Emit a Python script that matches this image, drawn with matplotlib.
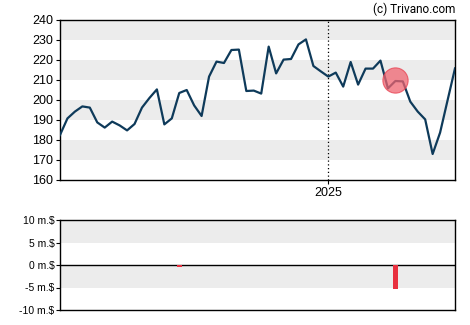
import matplotlib
matplotlib.use("Agg")
import matplotlib.pyplot as plt
import numpy as np

# Weekly closing prices
prices = [182.5, 190.8, 194.2, 196.8, 196.2, 188.8, 186.2, 189.2, 187.3, 184.8,
          188.0, 196.2, 201.0, 205.3, 187.8, 190.8, 203.5, 205.0, 197.3, 192.0,
          211.7, 219.2, 218.5, 225.0, 225.2, 204.5, 204.7, 203.2, 226.7, 213.3,
          220.2, 220.5, 227.8, 230.3, 217.0, 214.3, 211.7, 213.7, 206.7, 219.0,
          207.7, 215.7, 215.7, 219.7, 205.8, 209.5, 209.3, 199.2, 194.2, 190.3,
          173.0, 183.7, 199.8, 215.8]

# Insider transactions (million $): week index and net value
trade_weeks = [16, 45]
trade_values = [-0.45, -5.3]

# Highlighted event on the price line
marker_week = 45
marker_price = 209.8

year_tick_week = 36
year_tick_label = "2025"

price_ticks = [160, 170, 180, 190, 200, 210, 220, 230, 240]
flow_ticks = [-10, -5, 0, 5, 10]
flow_labels = ["-10 m.$", "-5 m.$", "0 m.$", "5 m.$", "10 m.$"]

plt.rcParams['font.family'] = ['Liberation Sans', 'DejaVu Sans']

W, H = 470, 325
fig = plt.figure(figsize=(W / 100, H / 100), dpi=100)

def frac(x0, y0, x1, y1):
    return [x0 / W, 1 - y1 / H, (x1 - x0) / W, (y1 - y0) / H]

line_color = "#0e3a5a"
band_color = "#ececec"

# Price panel
ax = fig.add_axes(frac(60, 20, 455, 180))
n = len(prices)
x = np.arange(n)
ax.set_xlim(0, n - 1)
ax.set_ylim(160, 240)
for lo in [170, 190, 210, 230]:
    ax.axhspan(lo, lo + 10, color=band_color, lw=0, zorder=0)
ax.plot(x, prices, color=line_color, lw=1.6, zorder=3, solid_joinstyle="round")
ax.axvline(year_tick_week, color="black", lw=0.9, ls=(0, (1, 2)), zorder=2)
ax.scatter([marker_week], [marker_price], s=330, color="#f06470", alpha=0.75,
           edgecolors="#e84050", linewidths=0.8, zorder=4)
ax.set_yticks(price_ticks)
ax.set_yticklabels([str(t) for t in price_ticks], fontsize=9)
ax.set_xticks([year_tick_week])
ax.set_xticklabels([year_tick_label], fontsize=9)
ax.tick_params(axis="both", length=3, width=0.8, pad=2, colors="black")
for s in ax.spines.values():
    s.set_linewidth(1.0)
fig.text(455 / W, 1 - 13 / H, "(c) Trivano.com", ha="right", va="baseline",
         fontsize=8.5, family=["Roboto", "DejaVu Sans"])

# Insider flow panel
bx = fig.add_axes(frac(60, 220, 455, 310))
bx.set_xlim(0, n - 1)
bx.set_ylim(-10, 10)
bx.axhspan(5, 10, color=band_color, lw=0, zorder=0)
bx.axhspan(-5, 0, color=band_color, lw=0, zorder=0)
bx.axhline(0, color="black", lw=1.0, zorder=2)
bx.bar(trade_weeks, trade_values, width=0.62, color="#e8303f", zorder=3)
bx.set_yticks(flow_ticks)
bx.set_yticklabels(flow_labels, fontsize=7.5)
bx.set_xticks([])
bx.tick_params(axis="y", length=3, width=0.8, pad=1)
for s in bx.spines.values():
    s.set_linewidth(1.0)

fig.savefig("out.png", dpi=100)
